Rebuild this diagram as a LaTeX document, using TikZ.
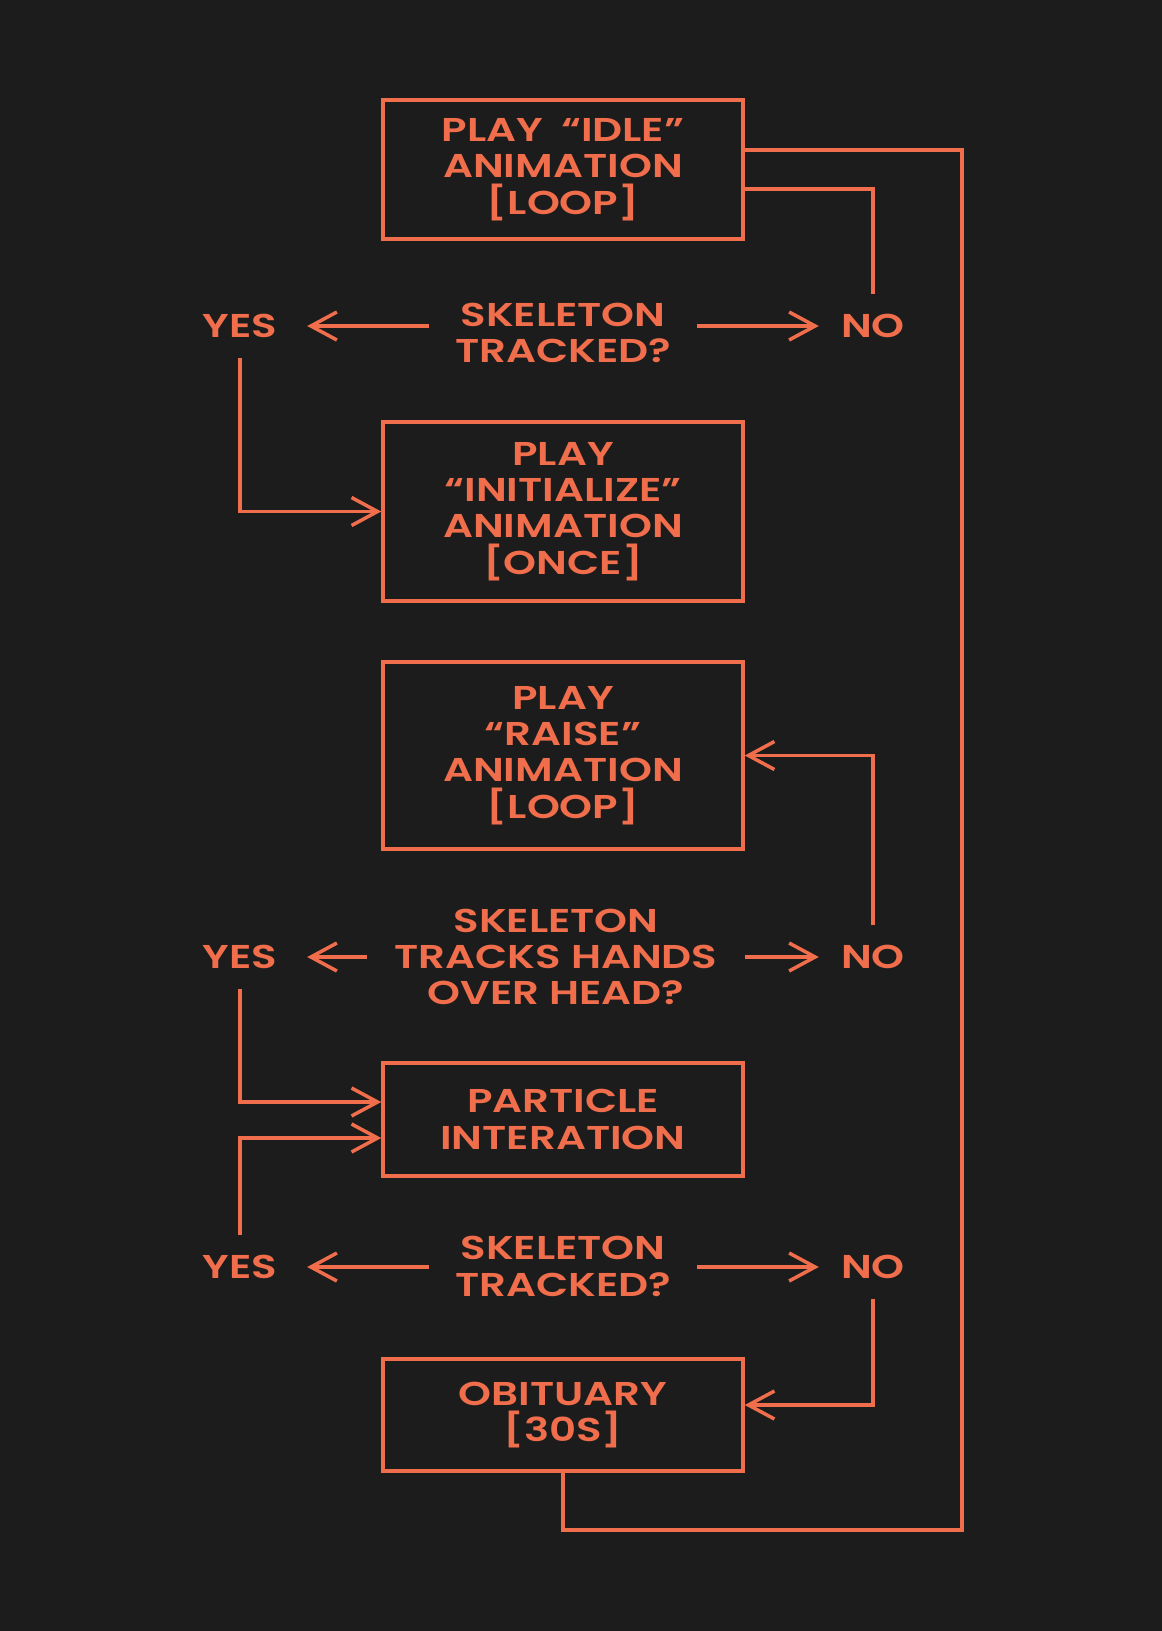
\documentclass[tikz,border=0pt]{standalone}
\usepackage{fontspec}
\newfontfamily\labfont[FakeStretch=1.27]{Poppins SemiBold}
\usetikzlibrary{arrows.meta}
\definecolor{bg}{RGB}{28,28,28}
\definecolor{ora}{RGB}{240,110,76}
\begin{document}
\begin{tikzpicture}[x=1pt,y=-1pt,
  txt/.style={font=\labfont\fontsize{33}{36.4}\selectfont, text=ora, align=center, inner sep=0pt},
  box/.style={txt, draw=ora, line width=3.5pt, minimum width=360pt},
  ans/.style={txt, minimum height=63pt},
  line/.style={draw=ora, line width=3.5pt},
  arr/.style={line, -{Straight Barb[length=26pt,width=28pt,line width=3.5pt]}}]
\fill[bg] (0,0) rectangle (1162,1631);
\useasboundingbox (0,0) rectangle (1162,1631);
% boxes
\node[box, minimum height=139pt] (b1) at (563,169.5) {PLAY\hspace{8pt} “IDLE”\\ANIMATION\\{[LOOP]}};
\node[box, minimum height=179pt] (b2) at (563,511.5) {PLAY\\“INITIALIZE”\\ANIMATION\\{[ONCE]}};
\node[box, minimum height=187pt] (b3) at (563,755.5) {PLAY\\“RAISE”\\ANIMATION\\{[LOOP]}};
\node[box, minimum height=113pt] (b4) at (563,1119.5) {PARTICLE\\INTERATION};
\node[box, minimum height=112pt] (b5) at (563,1415) {OBITUARY\\{[30S]}};
% questions
\node[txt, minimum width=267pt] (q1) at (563,333) {SKELETON\\TRACKED?};
\node[txt, minimum width=378pt] (q2) at (556,957) {SKELETON\\TRACKS HANDS\\OVER HEAD?};
\node[txt, minimum width=267pt] (q3) at (563,1266.5) {SKELETON\\TRACKED?};
% answers
\node[ans, minimum width=134pt] (yes1) at (240,326) {YES};
\node[ans, minimum width=134pt] (yes2) at (240,957) {YES};
\node[ans, minimum width=134pt] (yes3) at (240,1267) {YES};
\node[ans, minimum width=108pt] (no1) at (873,326) {NO};
\node[ans, minimum width=108pt] (no2) at (873,957) {NO};
\node[ans, minimum width=108pt] (no3) at (873,1267) {NO};
\coordinate (loopc) at (962,1530);
% connectors
\draw[line] (b1.east |- 0,150) -| (loopc) -| (b5.south);
\draw[line] (b1.east |- 0,189) -| (no1.north);
\draw[arr] (q1.west |- yes1) -- (yes1.east);
\draw[arr] (q1.east |- no1) -- (no1.west);
\draw[arr] (yes1.south) |- (b2.west);
\draw[arr] (no2.north) |- (b3.east);
\draw[arr] (q2.west |- yes2) -- (yes2.east);
\draw[arr] (q2.east |- no2) -- (no2.west);
\draw[arr] (yes2.south) |- (b4.west |- 0,1102);
\draw[arr] (yes3.north) |- (b4.west |- 0,1138);
\draw[arr] (q3.west |- yes3) -- (yes3.east);
\draw[arr] (q3.east |- no3) -- (no3.west);
\draw[arr] (no3.south) |- (b5.east |- 0,1405);
\end{tikzpicture}
\end{document}
